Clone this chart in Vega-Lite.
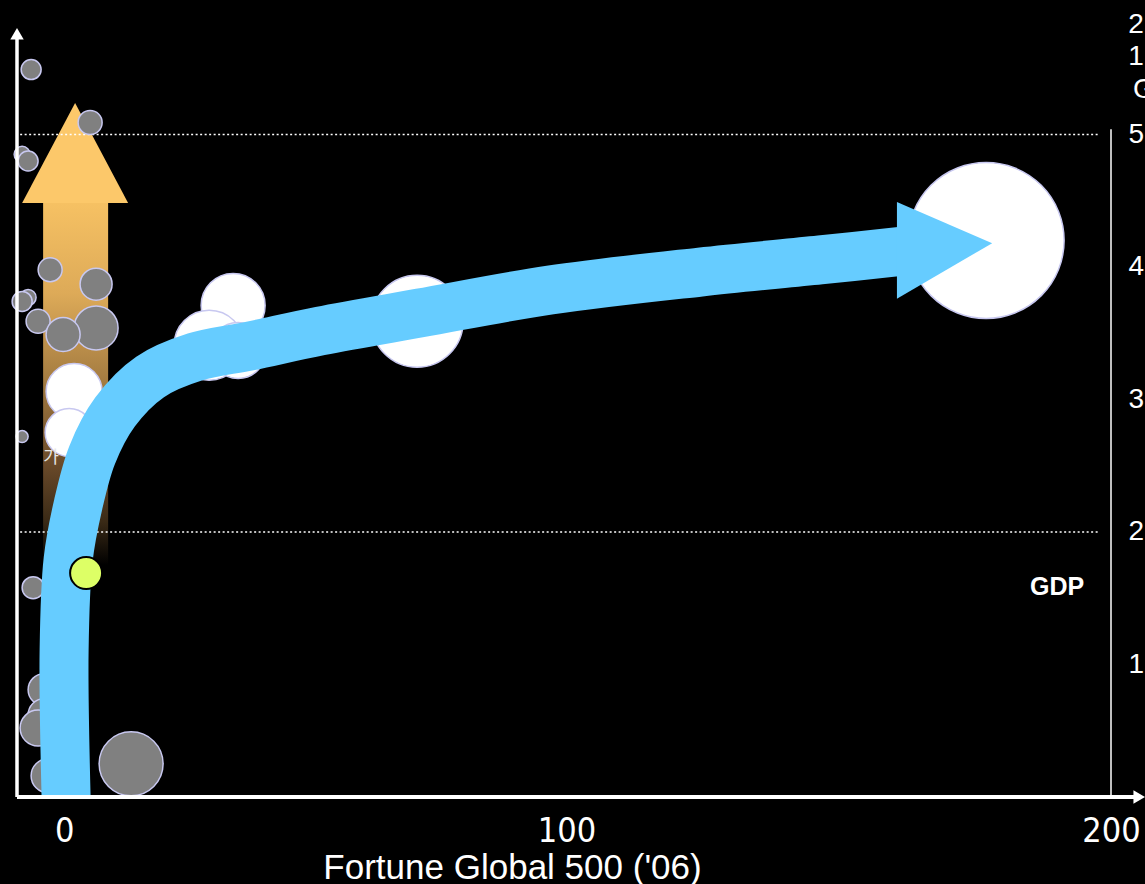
{
  "$schema": "https://vega.github.io/schema/vega-lite/v6.json",
  "width": 1094,
  "height": 797,
  "autosize": "none",
  "padding": {"left": 17, "top": 0, "right": 34, "bottom": 87},
  "background": "#000000",
  "config": {"view": {"stroke": null}},
  "datasets": {
    "bubbles": [
      {"x": -6.30, "y": 5.49, "v": 100, "group": "A"},
      {"x": 4.97, "y": 5.09, "v": 144, "group": "A"},
      {"x": -8.02, "y": 4.85, "v": 64, "group": "A"},
      {"x": -6.88, "y": 4.80, "v": 100, "group": "A"},
      {"x": -2.67, "y": 3.98, "v": 144, "group": "A"},
      {"x": 6.11, "y": 3.87, "v": 256, "group": "A"},
      {"x": -6.88, "y": 3.77, "v": 64, "group": "A"},
      {"x": -8.02, "y": 3.74, "v": 100, "group": "A"},
      {"x": -4.97, "y": 3.59, "v": 144, "group": "A"},
      {"x": 6.11, "y": 3.54, "v": 484, "group": "A"},
      {"x": -0.19, "y": 3.49, "v": 289, "group": "A"},
      {"x": -8.02, "y": 2.72, "v": 36, "group": "A"},
      {"x": -5.92, "y": 1.58, "v": 121, "group": "A"},
      {"x": -3.82, "y": 0.81, "v": 256, "group": "A"},
      {"x": -3.82, "y": 0.62, "v": 256, "group": "A"},
      {"x": -4.97, "y": 0.52, "v": 324, "group": "A"},
      {"x": -3.06, "y": 0.16, "v": 289, "group": "A"},
      {"x": 12.80, "y": 0.25, "v": 1024, "group": "A"},
      {"x": 1.91, "y": 3.06, "v": 784, "group": "B"},
      {"x": 0.96, "y": 2.75, "v": 576, "group": "B"},
      {"x": 32.29, "y": 3.71, "v": 1024, "group": "B"},
      {"x": 27.70, "y": 3.41, "v": 1225, "group": "B"},
      {"x": 33.24, "y": 3.37, "v": 784, "group": "B"},
      {"x": 67.44, "y": 3.59, "v": 2116, "group": "B"},
      {"x": 176.14, "y": 4.20, "v": 6084, "group": "B"}
    ],
    "focus": [{"x": 4.20, "y": 1.69, "v": 256}],
    "shaft": [{"x": -4.01, "x2": 8.41, "y": 4.483, "y2": 1.75}],
    "upHead": [
      {"x": -8.02, "y": 4.483, "y2": 4.483},
      {"x": 2.10, "y": 5.238, "y2": 4.483},
      {"x": 12.23, "y": 4.483, "y2": 4.483}
    ],
    "path": [
      {"o": 1, "x": 0.38, "y": 0},
      {"o": 2, "x": 0.0, "y": 1.109},
      {"o": 3, "x": 0.76, "y": 1.789},
      {"o": 4, "x": 2.67, "y": 2.204},
      {"o": 5, "x": 5.35, "y": 2.581},
      {"o": 6, "x": 9.74, "y": 2.906},
      {"o": 7, "x": 16.43, "y": 3.170},
      {"o": 8, "x": 25.03, "y": 3.321},
      {"o": 9, "x": 35.53, "y": 3.404},
      {"o": 10, "x": 48.91, "y": 3.517},
      {"o": 11, "x": 68.01, "y": 3.653},
      {"o": 12, "x": 92.85, "y": 3.826},
      {"o": 13, "x": 121.50, "y": 3.962},
      {"o": 14, "x": 144.43, "y": 4.053},
      {"o": 15, "x": 160.67, "y": 4.121}
    ],
    "rightHead": [
      {"x": 159.1, "y": 4.49, "y2": 3.76},
      {"x": 177.3, "y": 4.18, "y2": 4.18}
    ],
    "grid": [
      {"x": -8.4, "x2": 197.9, "y": 2},
      {"x": -8.4, "x2": 197.9, "y": 5}
    ],
    "leftAxis": [{"x": -9, "y": 0, "y2": 5.74}],
    "rightAxis": [{"x": 200, "y": 0, "y2": 5.04}],
    "baseAxis": [{"x": -9, "x2": 204.5, "y": 0}],
    "tips": [
      {"x": -9, "y": 5.76, "dir": "up"},
      {"x": 205.4, "y": 0, "dir": "right"}
    ],
    "note": [{"x": -2.48, "y": 2.558, "t": "가"}],
    "gdp": [{"x": 189.7, "y": 1.585, "t": "GDP"}],
    "corner": [
      {"x": 203.3, "y": 5.83, "t": "2"},
      {"x": 203.3, "y": 5.585, "t": "1"},
      {"x": 204.2, "y": 5.336, "t": "G"}
    ]
  },
  "encoding": {
    "x": {
      "field": "x",
      "type": "quantitative",
      "scale": {"domain": [-9, 200], "nice": false, "zero": false},
      "axis": {
        "values": [0, 100, 200],
        "domain": false,
        "ticks": false,
        "grid": false,
        "labelFont": "Liberation Sans Narrow, Arial Narrow, DejaVu Sans Condensed, sans-serif",
        "labelFontSize": 34,
        "labelColor": "#ffffff",
        "labelPadding": 17,
        "labelFlush": false,
        "labelOverlap": false,
        "labelOffset": {"condition": {"test": "datum.value === 100", "value": -21}, "value": 0},
        "title": "Fortune Global 500 ('06)",
        "titleFont": "Liberation Sans",
        "titleFontSize": 35,
        "titleFontWeight": "normal",
        "titleColor": "#ffffff",
        "titleAlign": "center",
        "titleAnchor": "start",
        "titleBaseline": "alphabetic",
        "titleX": 495,
        "titleY": 81
      }
    },
    "y": {
      "field": "y",
      "type": "quantitative",
      "scale": {"domain": [0, 6.015], "nice": false, "zero": false},
      "axis": {
        "orient": "right",
        "values": [1, 2, 3, 4, 5],
        "domain": false,
        "ticks": false,
        "grid": false,
        "labelFont": "Liberation Sans",
        "labelFontSize": 28,
        "labelColor": "#ffffff",
        "labelPadding": 17,
        "labelAlign": "left",
        "labelBaseline": "middle",
        "title": null
      }
    }
  },
  "layer": [
    {
      "data": {"name": "shaft"},
      "mark": {
        "type": "rect",
        "fill": {
          "gradient": "linear",
          "x1": 0, "y1": 0, "x2": 0, "y2": 1,
          "stops": [
            {"offset": 0, "color": "#F6C163"},
            {"offset": 0.25, "color": "#DDAA58"},
            {"offset": 0.5, "color": "#A27A40"},
            {"offset": 0.72, "color": "#6A4A2A"},
            {"offset": 0.88, "color": "#3A2A16"},
            {"offset": 1, "color": "#000000"}
          ]
        }
      },
      "encoding": {"x2": {"field": "x2"}, "y2": {"field": "y2"}}
    },
    {
      "data": {"name": "upHead"},
      "mark": {"type": "area", "orient": "vertical", "color": "#FCC86A", "interpolate": "linear"},
      "encoding": {"y2": {"field": "y2"}}
    },
    {
      "data": {"name": "grid"},
      "mark": {"type": "rule", "color": "#ffffff", "strokeWidth": 1.5, "strokeDash": [2, 2.5]},
      "encoding": {"x2": {"field": "x2"}}
    },
    {
      "data": {"name": "bubbles"},
      "mark": {"type": "point", "shape": "circle", "filled": true, "opacity": 1, "stroke": "#C8C8F0", "strokeWidth": 1.5},
      "encoding": {
        "size": {"field": "v", "type": "quantitative", "scale": {"domain": [0, 1000], "range": [0, 4000]}, "legend": null},
        "fill": {"field": "group", "type": "nominal", "scale": {"domain": ["A", "B"], "range": ["#808080", "#FFFFFF"]}, "legend": null}
      }
    },
    {
      "data": {"name": "note"},
      "mark": {"type": "text", "font": "Noto Sans CJK KR", "fontSize": 17, "color": "#E6E6E6", "align": "center", "baseline": "middle"},
      "encoding": {"text": {"field": "t"}}
    },
    {
      "data": {"name": "path"},
      "mark": {"type": "line", "color": "#66CCFF", "strokeWidth": 49, "strokeCap": "butt", "interpolate": "catmull-rom"},
      "encoding": {"order": {"field": "o", "type": "quantitative"}}
    },
    {
      "data": {"name": "rightHead"},
      "mark": {"type": "area", "orient": "vertical", "color": "#66CCFF", "interpolate": "linear"},
      "encoding": {"y2": {"field": "y2"}}
    },
    {
      "data": {"name": "focus"},
      "mark": {"type": "point", "shape": "circle", "filled": true, "opacity": 1, "fill": "#DDFF66", "stroke": "#000000", "strokeWidth": 2},
      "encoding": {
        "size": {"field": "v", "type": "quantitative", "scale": {"domain": [0, 1000], "range": [0, 4000]}, "legend": null}
      }
    },
    {
      "data": {"name": "leftAxis"},
      "mark": {"type": "rule", "color": "#ffffff", "strokeWidth": 3.5},
      "encoding": {"y2": {"field": "y2"}}
    },
    {
      "data": {"name": "baseAxis"},
      "mark": {"type": "rule", "color": "#ffffff", "strokeWidth": 4},
      "encoding": {"x2": {"field": "x2"}}
    },
    {
      "data": {"name": "rightAxis"},
      "mark": {"type": "rule", "color": "#ffffff", "strokeWidth": 1.5},
      "encoding": {"y2": {"field": "y2"}}
    },
    {
      "data": {"name": "tips"},
      "mark": {"type": "point", "filled": true, "opacity": 1, "color": "#ffffff", "size": 180},
      "encoding": {
        "shape": {"field": "dir", "type": "nominal", "scale": {"domain": ["up", "right"], "range": ["triangle-up", "triangle-right"]}, "legend": null}
      }
    },
    {
      "data": {"name": "gdp"},
      "mark": {"type": "text", "font": "Liberation Sans", "fontSize": 25, "fontWeight": "bold", "color": "#ffffff", "align": "center", "baseline": "middle"},
      "encoding": {"text": {"field": "t"}}
    },
    {
      "data": {"name": "corner"},
      "mark": {"type": "text", "font": "Liberation Sans", "fontSize": 28, "color": "#ffffff", "align": "left", "baseline": "middle"},
      "encoding": {"text": {"field": "t"}}
    }
  ]
}
